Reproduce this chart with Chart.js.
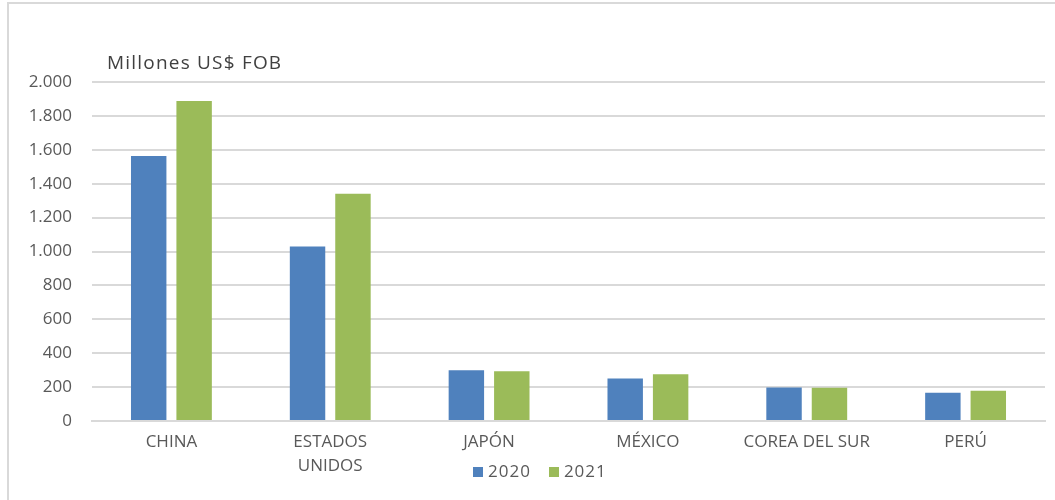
<!DOCTYPE html>
<html>
<head>
<meta charset="utf-8">
<script src="https://cdn.jsdelivr.net/npm/chart.js@4"></script>
<style>
  html, body { margin: 0; padding: 0; background: #fff; }
  body { width: 1055px; height: 500px; position: relative; overflow: hidden; font-family: "Open Sans", "Liberation Sans", sans-serif; }
  #frame { position: absolute; left: 7px; top: 2px; width: 1048px; height: 498px; border-left: 2px solid #d9d9d9; border-top: 2px solid #d9d9d9; }
  #wrap { position: absolute; left: 9px; top: 4px; width: 1046px; height: 496px; }
  #title { position: absolute; left: 107px; top: 49px; font-size: 19px; letter-spacing: 1.2px; color: #404040; white-space: nowrap; }
  #legend { position: absolute; left: 473px; top: 459px; font-size: 17px; letter-spacing: 1px; color: #595959; white-space: nowrap; }
  #legend span.box { display: inline-block; width: 10px; height: 10px; margin-right: 5px; vertical-align: 0px; }
  #legend span.item { margin-right: 18px; }
</style>
</head>
<body>
<div id="frame"></div>
<div id="wrap"><canvas id="c"></canvas></div>
<div id="title">Millones US$ FOB</div>
<div id="legend"></div>
<script>
const categories = ["CHINA", ["ESTADOS", "UNIDOS"], "JAPÓN", "MÉXICO", "COREA DEL SUR", "PERÚ"];
const seriesNames = ["2020", "2021"];
const values2020 = [1563, 1030, 300, 251, 198, 167];
const values2021 = [1888, 1341, 294, 276, 196, 178];
const yTicks = [0, 200, 400, 600, 800, 1000, 1200, 1400, 1600, 1800, 2000];
const colors = ["#4f81bd", "#9bbb59"];

const fmt = v => v.toLocaleString('de-DE');

const legendEl = document.getElementById('legend');
legendEl.innerHTML = seriesNames.map((n, i) =>
  `<span class="item"><span class="box" style="background:${colors[i]}"></span>${n}</span>`).join('');

Chart.defaults.font.family = '"Open Sans", "Liberation Sans", sans-serif';
Chart.defaults.color = '#595959';

new Chart(document.getElementById('c'), {
  type: 'bar',
  data: {
    labels: categories,
    datasets: [
      { label: seriesNames[0], data: values2020, backgroundColor: colors[0], barPercentage: 0.78, categoryPercentage: 0.572 },
      { label: seriesNames[1], data: values2021, backgroundColor: colors[1], barPercentage: 0.78, categoryPercentage: 0.572 }
    ]
  },
  options: {
    responsive: true,
    maintainAspectRatio: false,
    animation: false,
    layout: { padding: { top: 78, right: 10, left: 0, bottom: 0 } },
    plugins: { legend: { display: false }, tooltip: { enabled: false } },
    scales: {
      x: {
        grid: { display: false, drawTicks: false },
        border: { display: true, color: '#d9d9d9', width: 2 },
        ticks: { font: { size: 17, lineHeight: 1.42 }, padding: 9, maxRotation: 0, autoSkip: false, color: '#595959' },
        afterFit: s => { s.height = 79; }
      },
      y: {
        min: 0, max: 2000,
        afterBuildTicks: s => { s.ticks = yTicks.map(v => ({ value: v })); },
        grid: { color: '#d9d9d9', lineWidth: 2, drawTicks: false },
        border: { display: false },
        ticks: { font: { size: 17 }, padding: 20, callback: v => fmt(v), color: '#595959' },
        afterFit: s => { s.width = 83; }
      }
    }
  }
});
</script>
</body>
</html>
